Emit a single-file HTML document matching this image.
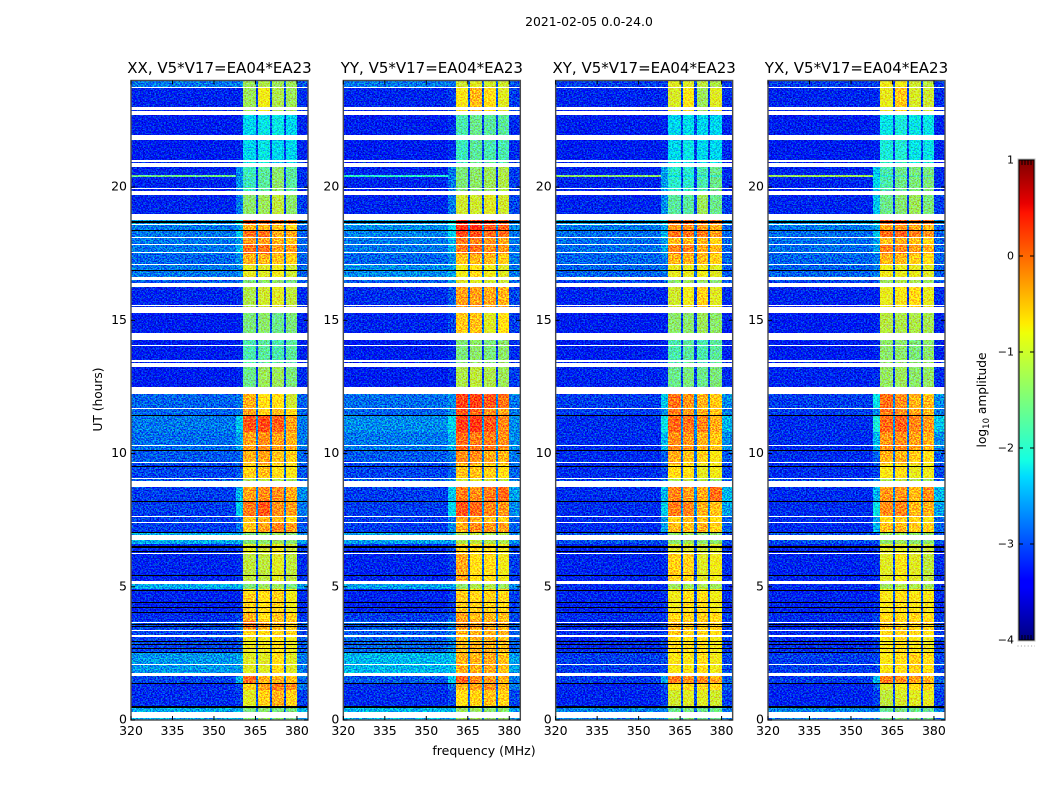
<!DOCTYPE html>
<html lang="en">
<head>
<meta charset="utf-8">
<title>2021-02-05 0.0-24.0</title>
<style>
html,body{margin:0;padding:0;background:#fff;}
body{width:1050px;height:800px;overflow:hidden;}
svg{display:block;font-family:"DejaVu Sans","Liberation Sans",sans-serif;}
</style>
</head>
<body>
<svg id="fig" xmlns="http://www.w3.org/2000/svg" width="1050" height="800" viewBox="0 0 1050 800">
  <defs>
    <filter id="speckle" x="0" y="0" width="1" height="1" color-interpolation-filters="sRGB">
      <feTurbulence type="fractalNoise" baseFrequency="0.62 0.72" numOctaves="2" seed="7" result="n"/>
      <feColorMatrix in="n" type="matrix" values="0 0 0 0 0.5  4 0 0 0 -1.5  0 3 0 0 -1  0 0 0 0 1" result="m"/>
      <feComposite in="SourceGraphic" in2="m" operator="arithmetic" k1="0" k2="1" k3="0.6" k4="-0.3"/>
    </filter>
    <linearGradient id="jet-gradient" x1="0" y1="1" x2="0" y2="0"></linearGradient>
  </defs>
  <rect width="1050" height="800" fill="#fff"/>
  <text x="589" y="26" font-size="12.4" text-anchor="middle" fill="#000">2021-02-05 0.0-24.0</text>
  <text x="484" y="755" font-size="12.5" text-anchor="middle" fill="#000">frequency (MHz)</text>
  <text x="0" y="0" font-size="12.2" text-anchor="middle" fill="#000" transform="translate(102,399.5) rotate(-90)">UT (hours)</text>
  <g id="panels"></g>
  <g id="colorbar"></g>
  <text x="0" y="0" font-size="12.2" text-anchor="middle" fill="#000" transform="translate(986,400) rotate(-90)">log<tspan font-size="8.5" dy="3">10</tspan><tspan dy="-3"> amplitude</tspan></text>
</svg>
<script>
/* ---------- chart data ---------- */
const panelTitles = ["XX, V5*V17=EA04*EA23", "YY, V5*V17=EA04*EA23", "XY, V5*V17=EA04*EA23", "YX, V5*V17=EA04*EA23"];
const xTicks = [320, 335, 350, 365, 380];
const yTicks = [0, 5, 10, 15, 20];
const colorbarTicks = [1, 0, -1, -2, -3, -4];
const freqEdges = [320, 358, 360.6, 365.2, 365.95, 370.2, 370.95, 375.2, 375.95, 380, 384];
const timeEdges = [0, .54, 1.12, 1.37, 1.7, 2.5, 3.2, 3.4, 3.7, 4, 4.9, 5.15, 6.25, 6.6, 7, 7.4, 7.65, 8.2, 8.85, 9.05, 9.6, 10.15, 10.8, 11.42, 11.68, 12.35, 13.35, 14.4, 15.3, 16.3, 16.6, 17.1, 17.5, 17.87, 18.1, 18.4, 18.62, 18.85, 19.8, 20.38, 20.44, 20.85, 21.85, 22.8, 23.77, 24];
const gapHours = [[.09,.31],[1.66,1.76],[2.06,2.1],[3.12,3.18],[3.34,3.38],[3.65,3.69],[5.1,5.22],[6.24,6.27],[6.75,6.93],[7.4,7.43],[7.62,7.65],[8.74,8.97],[9.04,9.07],[9.65,9.68],[10.29,10.32],[11.67,11.7],[12.25,12.49],[13.25,13.4],[13.44,13.5],[14.03,14.06],[14.25,14.51],[15.27,15.49],[15.54,15.56],[16.25,16.4],[16.5,16.62],[17.09,17.12],[17.51,17.55],[17.85,17.88],[18.09,18.12],[18.57,18.6],[18.75,18.98],[19.71,19.87],[19.91,19.97],[20.75,20.9],[20.93,21],[21.75,21.97],[22.72,22.87],[22.91,23],[23.73,23.77]];
const flagHours = [[18.65,18.71],[18.37,18.4],[16.84,16.88],[11.4,11.43],[10.12,10.15],[9.52,9.55],[8.19,8.21],[7,7.05],[6.5,6.53],[6.45,6.49],[6.3,6.34],[5.43,5.46],[4.87,4.89],[4.39,4.42],[4.19,4.23],[4,4.05],[3.58,3.61],[3.48,3.51],[2.92,2.95],[2.83,2.86],[2.67,2.7],[2.51,2.54],[1.35,1.37],[.46,.54]];
/* each row: left background, ramp, band 1, band 2, band 3, band 4, notch, right edge (log10 amplitude) */
const levelsXX = [
[-2.55,-2.55,-1.5,-1.4,-1.5,-1.5,-2.85,-2.55],[-3.2,-3.1,-.9,-.6,-.4,-.6,-3,-3.1],[-3.2,-3.05,-.6,-.3,-.1,-.2,-2.9,-2.8],[-3.05,-2.5,0,-.4,-.4,-.5,-2.8,-2.9],[-2.65,-2.6,-.9,-.9,-.7,-.9,-2.85,-2.8],
[-3.05,-2.95,-.8,-.8,-.7,-.8,-2.9,-2.95],[-3.05,-2.95,-.6,-.7,-.6,-.6,-2.9,-3.05],[-3.05,-2.8,-.1,-.35,-.4,-.5,-2.85,-2.95],[-3.2,-3.05,-.4,-.7,-.5,-.6,-2.9,-3.1],[-3.25,-3.2,-.6,-.7,-.6,-.8,-2.95,-3.2],
[-2.55,-2.55,-1.5,-1.3,-1.3,-1.5,-2.8,-2.65],[-3.25,-3.2,-1.1,-1.1,-.9,-1.1,-3,-3.2],[-3.2,-3.1,-.9,-1,-.8,-1,-2.95,-3.1],[-2.55,-2.55,-1.5,-1.4,-1.3,-1.4,-2.8,-2.65],[-3.1,-2.8,-.5,-.3,-.15,-.3,-2.85,-2.95],
[-3.1,-2.9,-.5,-.4,-.5,-.7,-2.85,-2.95],[-3.1,-2.4,-.1,.1,-.2,-.3,-2.75,-2.8],[-3.1,-2.5,-.3,-.2,-.2,-.35,-2.75,-2.7],[-2.95,-2.8,-1.2,-1.1,-1.2,-1.3,-2.85,-2.9],[-3.05,-2.95,-.6,-.5,-.7,-.75,-2.85,-2.95],
[-2.95,-2.9,-.4,-.3,-.5,-.6,-2.8,-2.9],[-2.85,-2.6,-.3,-.2,-.3,-.4,-2.8,-2.8],[-2.8,-2.4,.1,.15,.05,-.3,-2.7,-2.8],[-2.9,-2.8,-.3,-.6,-.5,-.7,-2.8,-2.9],[-2.9,-2.8,-.4,-.7,-.7,-1,-2.85,-2.9],
[-3.3,-3.25,-1.6,-1.3,-1.3,-1.5,-3.1,-3.2],[-3.3,-3.25,-1.8,-1.7,-1.8,-1.7,-3.1,-3.25],[-3.3,-3.25,-1.5,-1.4,-1.6,-1.5,-3.1,-3.25],[-3.25,-3.2,-1.2,-1,-.9,-1.1,-3.1,-3.2],[-2.95,-2.8,-1.5,-1.4,-1.4,-1.5,-3,-2.95],
[-2.8,-2.7,-.85,-.9,-.8,-1,-2.85,-2.9],[-2.9,-2.7,-.4,-.4,-.5,-.6,-2.85,-2.9],[-2.8,-2.5,-.05,-.05,-.3,-.3,-2.8,-2.9],[-2.8,-2.6,-.3,-.3,-.4,-.5,-2.8,-2.9],[-2.8,-2.4,-.05,-.05,-.35,-.35,-2.8,-2.9],
[-2.8,-2.6,-.4,-.4,-.5,-.6,-2.85,-2.9],[-2.6,-2.2,.1,.05,-.1,-.1,-2.75,-2.7],[-3.25,-2.8,-1.4,-1.3,-1.1,-1.4,-3.1,-3.1],[-3.25,-2.7,-1.9,-1.7,-1.4,-1.7,-3.1,-3.2],[-1.6,-2.8,-1.8,-1.7,-1.4,-1.7,-3.1,-3.2],
[-3.25,-2.7,-1.9,-1.7,-1.4,-1.7,-3.1,-3.2],[-3.3,-3.25,-2.3,-2.2,-2.3,-2.3,-3.1,-3.25],[-3.3,-3.25,-2.3,-2.2,-2.2,-2.3,-3.1,-3.25],[-3.25,-3.25,-1.3,-.8,-1.2,-1.3,-3.1,-3.2],[-2.8,-2.8,-1.3,-1.2,-1.3,-1.3,-2.95,-3]];
const levelsYY = [
[-2.5,-2.5,-1.3,-1.3,-1.4,-1.4,-2.8,-2.6],[-3.2,-3.05,-.7,-.6,-.5,-.6,-2.9,-3.05],[-3.2,-2.9,-.4,-.3,-.2,-.4,-2.85,-2.8],[-2.95,-2.4,.05,-.2,-.25,-.4,-2.75,-2.8],[-2.5,-2.45,-.4,-.4,-.35,-.5,-2.75,-2.6],
[-2.9,-2.7,-.45,-.4,-.4,-.5,-2.8,-2.9],[-2.95,-2.8,-.4,-.4,-.4,-.4,-2.8,-2.95],[-2.95,-2.7,-.2,-.3,-.3,-.4,-2.8,-2.95],[-3.1,-2.95,-.3,-.45,-.4,-.5,-2.8,-3.05],[-3.25,-3.1,-.55,-.6,-.6,-.65,-2.9,-3.1],
[-2.6,-2.6,-1.4,-1.2,-1.2,-1.3,-2.8,-2.7],[-3.25,-3.1,-.35,-.7,-.7,-.8,-2.9,-3.1],[-3.2,-3.05,-.6,-.7,-.65,-.8,-2.9,-3.05],[-2.6,-2.6,-1.2,-1.1,-1.2,-1.2,-2.8,-2.7],[-3.1,-2.7,-.35,-.2,-.25,-.3,-2.8,-2.9],
[-3.1,-2.8,-.3,-.4,-.5,-.6,-2.8,-2.9],[-3.1,-2.3,.1,0,-.15,-.25,-2.7,-2.7],[-3.1,-2.4,-.1,-.2,-.1,0,-2.7,-2.6],[-2.95,-2.7,-1,-.9,-1,-1.1,-2.8,-2.8],[-3.05,-2.9,-.5,-.5,-.6,-.7,-2.8,-2.9],
[-2.95,-2.8,-.2,-.2,-.35,-.4,-2.75,-2.8],[-2.8,-2.5,0,-.1,-.1,-.2,-2.7,-2.7],[-2.7,-2.3,.25,.3,.1,-.15,-2.65,-2.7],[-2.9,-2.7,.1,0,-.2,-.3,-2.75,-2.8],[-2.85,-2.7,.2,.2,.1,-.05,-2.75,-2.8],
[-3.3,-3.2,-1.2,-1.1,-1.2,-1.3,-3.1,-3.1],[-3.3,-3.2,-1.5,-1.4,-1.5,-1.4,-3.1,-3.2],[-3.25,-3.05,-.55,-.5,-.9,-.7,-2.9,-3.1],[-3.2,-2.95,-.3,-.3,-.35,-.4,-2.9,-3.05],[-2.95,-2.7,-.9,-.9,-1,-1,-2.9,-2.9],
[-2.7,-2.6,-.8,-.7,-.8,-.9,-2.8,-2.8],[-2.9,-2.7,-.5,-.4,-.45,-.6,-2.8,-2.8],[-2.8,-2.5,-.1,-.05,-.2,-.25,-2.8,-2.8],[-2.8,-2.5,-.1,-.1,-.25,-.35,-2.8,-2.8],[-2.75,-2.3,.15,.15,0,-.05,-2.7,-2.8],
[-2.7,-2.3,.35,.35,.1,.05,-2.65,-2.7],[-2.6,-2.2,.25,.2,.15,.1,-2.65,-2.7],[-3.25,-2.8,-1,-1,-.9,-1,-3,-3.05],[-3.25,-2.8,-1.5,-1.4,-1.3,-1.2,-3.1,-3.1],[-2,-2.8,-1.5,-1.4,-1.3,-1.2,-3.1,-3.1],
[-3.25,-2.8,-1.5,-1.4,-1.3,-1.2,-3.1,-3.1],[-3.3,-3.2,-1.9,-1.7,-1.8,-1.8,-3.1,-3.2],[-3.3,-3.2,-1.8,-1.6,-1.7,-1.7,-3.1,-3.2],[-3.25,-3.1,-.75,-.45,-.7,-.9,-2.95,-3.1],[-2.8,-2.8,-1,-.9,-1,-1,-2.9,-3]];
const levelsXY = [
[-2.75,-2.75,-1.6,-1.5,-1.6,-1.6,-2.9,-2.8],[-3.25,-3.1,-1,-.9,-.9,-1,-3,-3.1],[-3.25,-3.05,-.75,-.65,-.65,-.7,-2.95,-2.95],[-3.1,-2.6,-.1,-.2,-.2,-.35,-2.85,-2.95],[-3.1,-3.05,-.75,-.75,-.7,-.8,-2.9,-3.05],
[-3.2,-3.1,-.7,-.7,-.7,-.8,-2.9,-3.1],[-3.2,-3.1,-.55,-.6,-.6,-.7,-2.9,-3.1],[-3.2,-3.05,-.5,-.5,-.5,-.6,-2.9,-3.1],[-3.2,-3.1,-.65,-.6,-.6,-.7,-2.95,-3.1],[-3.25,-3.2,-.8,-.7,-.7,-.8,-2.95,-3.2],
[-3.2,-3.2,-1.3,-1.3,-1.2,-1.3,-3,-3.2],[-3.25,-3.2,-.6,-.6,-.9,-.8,-3,-3.2],[-3.25,-3.2,-.9,-.9,-1,-.9,-3,-3.2],[-3,-3,-1.4,-1.3,-1.4,-1.4,-2.9,-3],[-3.2,-2.6,-.45,-.5,-.4,-.6,-2.8,-2.9],
[-3.2,-2.7,-.6,-.5,-.5,-.7,-2.8,-2.9],[-3.2,-2.35,-.1,-.15,-.4,-.5,-2.7,-2.6],[-3.2,-2.5,-.15,-.3,-.35,-.05,-2.7,-2.5],[-3.05,-2.8,-1.2,-1.1,-1.2,-1.3,-2.85,-2.9],[-3.2,-3.05,-.7,-.7,-.85,-.8,-2.9,-3.05],
[-3.2,-2.95,-.35,-.5,-.6,-.75,-2.85,-2.95],[-3.2,-2.5,-.2,-.25,-.4,-.5,-2.8,-2.7],[-3.2,-2.2,.0,-.05,-.15,-.35,-2.7,-2.5],[-3.1,-2.7,-.1,-.3,-.4,-.5,-2.8,-2.8],[-3.1,-2.4,-.05,-.25,-.4,-.55,-2.75,-2.7],
[-3.25,-3.2,-1.6,-1.5,-1.6,-1.5,-3.1,-3.2],[-3.3,-3.25,-1.8,-1.7,-1.8,-1.7,-3.1,-3.25],[-3.3,-3.25,-1.4,-1.4,-1.3,-1.4,-3.1,-3.25],[-3.25,-3.25,-1,-.8,-.6,-.9,-3.1,-3.2],[-3.05,-2.9,-1.4,-1.3,-1.3,-1.4,-3,-2.95],
[-2.9,-2.8,-.85,-.85,-.8,-.9,-2.9,-2.95],[-2.9,-2.8,-.4,-.4,-.45,-.6,-2.85,-2.9],[-2.85,-2.6,-.15,-.15,-.35,-.4,-2.8,-2.9],[-2.85,-2.6,-.45,-.45,-.4,-.6,-2.85,-2.9],[-2.85,-2.5,-.05,-.05,-.1,-.3,-2.75,-2.9],
[-2.8,-2.6,-.25,-.2,-.25,-.4,-2.8,-2.9],[-2.6,-2.3,.05,.05,-.1,-.1,-2.75,-2.7],[-3.25,-2.7,-1.7,-1.7,-1.3,-1.6,-3.1,-3.1],[-3.25,-2.6,-2,-2,-1.8,-1.6,-3.1,-3.2],[-1.4,-2.7,-2.2,-2.2,-2,-1.9,-3.1,-3.2],
[-3.25,-2.6,-2,-2,-1.8,-1.6,-3.1,-3.2],[-3.3,-3.25,-2.3,-2.2,-2.3,-2.3,-3.1,-3.25],[-3.3,-3.25,-2.3,-2.25,-2.3,-2.3,-3.1,-3.25],[-3.25,-3.2,-.95,-.75,-1.3,-.9,-3.1,-3.2],[-3.1,-3.1,-.9,-.9,-1.1,-1.2,-3,-3.1]];
const levelsYX = [
[-2.75,-2.75,-1.6,-1.5,-1.6,-1.6,-2.9,-2.8],[-3.25,-3.1,-1.1,-.95,-.9,-.85,-3,-3.1],[-3.25,-2.95,-.9,-.8,-.7,-.6,-2.95,-2.95],[-3.1,-2.5,-.15,-.2,-.3,-.4,-2.85,-2.95],[-3.1,-3.05,-.75,-.7,-.6,-.7,-2.9,-3.05],
[-3.2,-3.1,-.75,-.7,-.75,-.8,-2.9,-3.1],[-3.2,-3.1,-.65,-.6,-.65,-.7,-2.9,-3.1],[-3.2,-3.05,-.55,-.55,-.6,-.6,-2.9,-3.1],[-3.2,-3.1,-.65,-.65,-.65,-.7,-2.95,-3.1],[-3.25,-3.2,-.75,-.7,-.75,-.75,-2.95,-3.2],
[-3.2,-3.2,-1.3,-1.2,-1.2,-1.3,-3,-3.2],[-3.25,-3.2,-.9,-.75,-.9,-1.1,-3,-3.2],[-3.25,-3.2,-.9,-.85,-1,-1,-3,-3.2],[-3,-3,-1.4,-1.3,-1.4,-1.4,-2.9,-3],[-3.2,-2.5,-.5,-.45,-.55,-.6,-2.8,-2.9],
[-3.2,-2.6,-.7,-.6,-.6,-.75,-2.8,-2.9],[-3.2,-2.2,-.2,-.15,-.45,-.4,-2.7,-2.6],[-3.2,-2.5,-.25,-.25,-.45,-.2,-2.7,-2.5],[-3.05,-2.8,-1.2,-1.1,-1.2,-1.3,-2.85,-2.9],[-3.2,-3.05,-.75,-.7,-.85,-.8,-2.9,-3.05],
[-3.2,-2.9,-.4,-.4,-.55,-.7,-2.85,-2.95],[-3.2,-2.5,-.25,-.2,-.3,-.4,-2.8,-2.7],[-3.2,-2.1,.0,.05,-.15,-.25,-2.7,-2.4],[-3.1,-2.7,-.1,-.2,-.3,-.45,-2.8,-2.8],[-3.1,-2.2,-.05,-.2,-.4,-.45,-2.75,-2.7],
[-3.25,-3.2,-1.35,-1.3,-1.4,-1.35,-3.1,-3.2],[-3.3,-3.25,-1.4,-1.4,-1.5,-1.4,-3.1,-3.25],[-3.3,-3.25,-1.15,-1.2,-1.2,-1.25,-3.1,-3.25],[-3.25,-3.25,-.85,-.75,-.65,-.85,-3.1,-3.2],[-3.05,-2.9,-1.3,-1.2,-1.2,-1.3,-3,-2.95],
[-2.9,-2.8,-.8,-.85,-.85,-.9,-2.9,-2.95],[-2.9,-2.8,-.4,-.45,-.6,-.7,-2.85,-2.9],[-2.85,-2.6,-.15,-.15,-.3,-.4,-2.8,-2.9],[-2.85,-2.6,-.45,-.4,-.5,-.65,-2.85,-2.9],[-2.85,-2.4,.0,.05,-.15,-.25,-2.75,-2.9],
[-2.8,-2.6,-.35,-.25,-.35,-.45,-2.8,-2.9],[-2.6,-2.2,.1,.05,-.1,-.1,-2.75,-2.7],[-3.25,-2.4,-1.6,-1.45,-1.3,-1.5,-3.1,-3.1],[-3.25,-2.3,-1.8,-1.6,-1.5,-1.5,-3.1,-3.2],[-1.3,-2.4,-2,-1.8,-1.7,-1.7,-3.1,-3.2],
[-3.25,-2.4,-1.8,-1.6,-1.5,-1.5,-3.1,-3.2],[-3.3,-3.25,-2.1,-2.05,-2.2,-2.2,-3.1,-3.25],[-3.3,-3.25,-2.2,-2.1,-2.2,-2.2,-3.1,-3.25],[-3.25,-3.2,-.85,-.55,-.95,-1,-3.1,-3.2],[-3.1,-3.1,-.8,-.8,-1,-1.1,-3,-3.1]];
const panelLevels = [levelsXX, levelsYY, levelsXY, levelsYX];
const columnLevelIndex = [0, 1, 2, 6, 3, 6, 4, 6, 5, 7];

/* ---------- scales ---------- */
const SVGNS = "http://www.w3.org/2000/svg";
const PANEL_LEFT = 131, PANEL_STEP = 212.33, PANEL_WIDTH = 177;
const PLOT_TOP = 80.5, PLOT_BOTTOM = 720;
const F_MIN = 320, F_MAX = 384, T_MAX = 24;
const CB_LEFT = 1019, CB_RIGHT = 1034, CB_TOP = 160, CB_BOTTOM = 640, L_MIN = -4, L_MAX = 1;
function panelLeft(i) { return PANEL_LEFT + PANEL_STEP * i; }
function xScale(i, f) { return panelLeft(i) + (f - F_MIN) / (F_MAX - F_MIN) * PANEL_WIDTH; }
function yScale(h) { return PLOT_BOTTOM - h / T_MAX * (PLOT_BOTTOM - PLOT_TOP); }
function cbScale(l) { return CB_BOTTOM - (l - L_MIN) / (L_MAX - L_MIN) * (CB_BOTTOM - CB_TOP); }
function lerpStops(n, stops) {
  for (let k = 1; k < stops.length; k++) {
    if (n <= stops[k][0]) {
      const a = stops[k - 1], b = stops[k];
      return a[1] + (b[1] - a[1]) * (n - a[0]) / (b[0] - a[0]);
    }
  }
  return stops[stops.length - 1][1];
}
function jet(level) {
  const n = Math.max(0, Math.min(1, (level - L_MIN) / (L_MAX - L_MIN)));
  const r = lerpStops(n, [[0,0],[.35,0],[.66,1],[.89,1],[1,.5]]);
  const g = lerpStops(n, [[0,0],[.125,0],[.375,1],[.64,1],[.91,0],[1,0]]);
  const b = lerpStops(n, [[0,.5],[.11,1],[.34,1],[.65,0],[1,0]]);
  return "rgb(" + Math.round(r * 255) + "," + Math.round(g * 255) + "," + Math.round(b * 255) + ")";
}
function make(tag, attrs, parent) {
  const el = document.createElementNS(SVGNS, tag);
  for (const k in attrs) el.setAttribute(k, attrs[k]);
  parent.appendChild(el);
  return el;
}

/* ---------- panels ---------- */
const panelsRoot = document.getElementById("panels");
panelTitles.forEach(function (title, i) {
  const g = make("g", {}, panelsRoot);
  
  

  const cells = make("g", { filter: "url(#speckle)", "shape-rendering": "crispEdges" }, g);
  
  
  const rows = panelLevels[i];
  rows.forEach(function (row, r) {
    const y1 = Math.round(yScale(timeEdges[r + 1]));
    const y0 = Math.round(yScale(timeEdges[r]));
    columnLevelIndex.forEach(function (idx, c) {
      const x0 = Math.round(xScale(i, freqEdges[c]));
      const x1 = Math.round(xScale(i, freqEdges[c + 1]));
      const cell = make("rect", { x: x0, y: y1, width: x1 - x0, height: Math.max(1, y0 - y1), fill: jet(row[idx]) }, cells);
      
      
    });
  });

  const overlay = make("g", { "shape-rendering": "crispEdges" }, g);
  
  
  const x0 = xScale(i, F_MIN);
  gapHours.forEach(function (gap) {
    const top = Math.round(yScale(gap[1]));
    const band = make("rect", { x: x0, y: top, width: PANEL_WIDTH, height: Math.max(1, Math.round(yScale(gap[0])) - top), fill: "#fff" }, overlay);
    
    
  });
  flagHours.forEach(function (flag) {
    const top = Math.round(yScale(flag[1]));
    const band = make("rect", { x: x0, y: top, width: PANEL_WIDTH, height: Math.max(1, Math.round(yScale(flag[0])) - top), fill: "#000" }, overlay);
    
    
  });

  const frame = make("rect", { x: x0, y: PLOT_TOP, width: PANEL_WIDTH, height: PLOT_BOTTOM - PLOT_TOP, fill: "none", stroke: "#4a4a4a", "stroke-width": 1.4 }, g);
  
  

  xTicks.forEach(function (t) {
    const x = xScale(i, t);
    const a = make("line", { x1: x, x2: x, y1: PLOT_BOTTOM, y2: PLOT_BOTTOM - 4, stroke: "#000" }, g);
    
    
    const b = make("line", { x1: x, x2: x, y1: PLOT_TOP, y2: PLOT_TOP + 4, stroke: "#000" }, g);
    
    
    const lab = make("text", { x: x, y: PLOT_BOTTOM + 15, "font-size": 12.5, "text-anchor": "middle", fill: "#000" }, g);
    
    
    lab.textContent = t;
  });
  yTicks.forEach(function (t) {
    const y = yScale(t);
    const a = make("line", { x1: x0, x2: x0 + 4, y1: y, y2: y, stroke: "#000" }, g);
    
    
    const b = make("line", { x1: x0 + PANEL_WIDTH, x2: x0 + PANEL_WIDTH - 4, y1: y, y2: y, stroke: "#000" }, g);
    
    
    const lab = make("text", { x: x0 - 4, y: y + 3.5, "font-size": 12.5, "text-anchor": "end", fill: "#000" }, g);
    
    
    lab.textContent = t;
  });

  const tt = make("text", { x: x0 + PANEL_WIDTH / 2, y: 73, "font-size": 15, "text-anchor": "middle", fill: "#000" }, g);
  
  
  tt.textContent = title;
});

/* ---------- colorbar ---------- */
const grad = document.getElementById("jet-gradient");
[-4, -3.5, -3.375, -3.45, -2.3, -2.125, -2, -1.75, -1.3, -1.2, -0.8, -0.7, -0.45, -0.05, 0.45, 0.55, 1].sort(function (a, b) { return a - b; }).forEach(function (l) {
  make("stop", { offset: (l - L_MIN) / (L_MAX - L_MIN), "stop-color": jet(l) }, grad);
});
const cb = document.getElementById("colorbar");
const cbRect = make("rect", { x: CB_LEFT, y: CB_TOP, width: CB_RIGHT - CB_LEFT, height: CB_BOTTOM - CB_TOP, fill: "url(#jet-gradient)", stroke: "#000", "stroke-width": 1 }, cb);


const cbHalo = make("rect", { x: CB_LEFT - 1, y: CB_TOP - 1, width: CB_RIGHT - CB_LEFT + 2, height: CB_BOTTOM - CB_TOP + 2, fill: "none", stroke: "#bbb", "stroke-width": 1 }, cb);


colorbarTicks.forEach(function (t) {
  const y = cbScale(t);
  const a = make("line", { x1: CB_LEFT, x2: CB_LEFT + 4, y1: y, y2: y, stroke: "#000" }, cb);
  
  
  const b = make("line", { x1: CB_RIGHT, x2: CB_RIGHT - 4, y1: y, y2: y, stroke: "#000" }, cb);
  
  
  const lab = make("text", { x: CB_LEFT - 5, y: y + 3.5, "font-size": 11, "text-anchor": "end", fill: "#000" }, cb);
  
  
  lab.textContent = String(t).replace("-", "\u2212");
});
[1022, 1025, 1028, 1031].forEach(function (x) {
  const a = make("line", { x1: x, x2: x, y1: CB_TOP, y2: CB_TOP + 5, stroke: "#000" }, cb);
  
  
  const b = make("line", { x1: x, x2: x, y1: CB_BOTTOM, y2: CB_BOTTOM - 5, stroke: "#000" }, cb);
  
  
});
const cbDots = make("line", { x1: 1017.5, x2: 1035, y1: 646, y2: 646, stroke: "#999", "stroke-width": 1, "stroke-dasharray": "1 2.4" }, cb);


</script>
</body>
</html>
